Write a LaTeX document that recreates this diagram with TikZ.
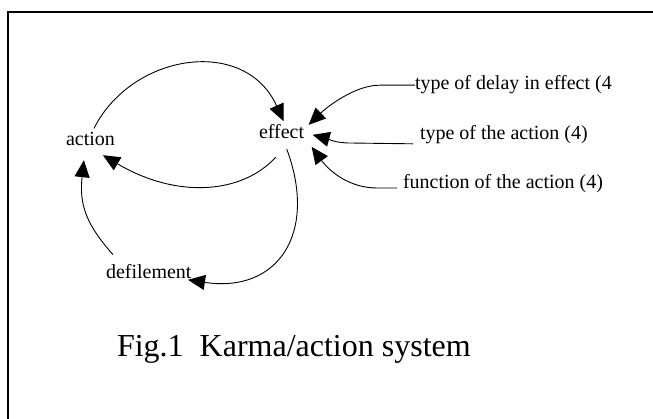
\documentclass[tikz,border=0pt]{standalone}
\usepackage{fontspec}
\setmainfont{Liberation Serif}
\usetikzlibrary{arrows.meta,calc}
\tikzset{
  lbl/.style={font=\fontsize{20pt}{24pt}\selectfont, inner sep=0pt, outer sep=0pt, anchor=base west},
  captext/.style={font=\fontsize{32pt}{38pt}\selectfont, inner sep=0pt, outer sep=0pt, anchor=base west},
  conn/.style={line width=0.9pt, -{Triangle[length=17pt,width=15pt]}},
  framestyle/.style={line width=2pt}
}
\begin{document}
\begin{tikzpicture}[x=1pt,y=-1pt]
\useasboundingbox (0,0) rectangle (653,419);
\fill[white] (0,0) rectangle (653,419);
\draw[framestyle] (7.5,419) -- (7.5,12) -- (653,12);

\node[lbl] (action) at (66,145.7) {action};
\node[lbl] (effect) at (259,138.3) {effect};
\node[lbl] (defile) at (106,278.3) {defilement};
\node[lbl] (delay) at (415,90) {type of delay in effect (4};
\node[lbl] (tact) at (420,139.5) {type of the action (4)};
\node[lbl] (func) at (403,189) {function of the action (4)};
\node[captext] (caption) at (117,356) {Fig.1~~Karma/action system};

% action -> effect (upper arc)
\draw[conn] ($(action.north)+(3.5,-4)$) .. controls (132,53) and (245,36) .. ($(effect.north)+(2,-3)$);
% effect -> action (lower arc)
\draw[conn] ($(effect.south)+(-5.8,18.7)$) .. controls (242,194) and (177,199) .. ($(action.south)+(12.5,9.3)$);
% effect -> defilement
\draw[conn] ($(effect.south)+(5.2,10.7)$) .. controls (318,233) and (278,293.5) .. ($(defile.east)+(-3.5,8.5)$);
% defilement -> action
\draw[conn] ($(defile.north west)+(7,-9.6)$) .. controls (86.6,225) and (79,205) .. ($(action.south)+(-6.5,14.3)$);

% right side inputs
\draw[conn] (delay.west) -- (380,85.2) .. controls (355,85) and (327,107) .. ($(effect.east)+(4.5,-6.5)$);
\draw[conn] ($(tact.south west)+(-7,0)$) -- (350,143) .. controls (335,143) and (328,139) .. ($(effect.east)+(8.5,3.5)$);
\draw[conn] ($(func.base west)+(-6,-1)$) -- (377,188) .. controls (350,188) and (330,172) .. ($(effect.east)+(7.5,15.5)$);
\end{tikzpicture}
\end{document}
